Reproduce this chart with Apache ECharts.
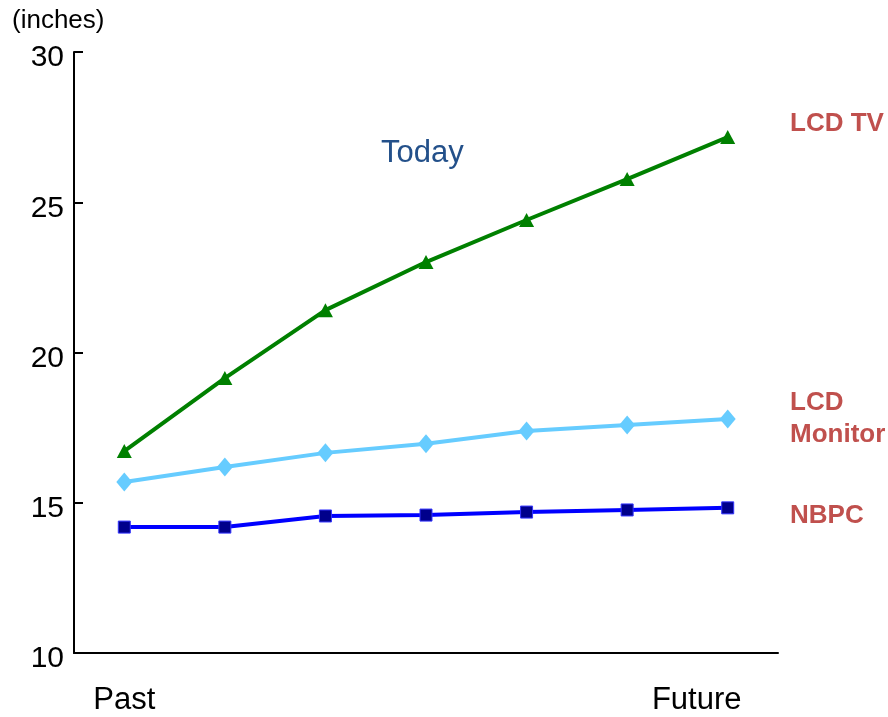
<!DOCTYPE html>
<html>
<head>
<meta charset="utf-8">
<style>
  html, body { margin: 0; padding: 0; background: #ffffff; }
  #chart { width: 888px; height: 717px; }
</style>
<script src="https://cdn.jsdelivr.net/npm/echarts@6/dist/echarts.min.js"></script>
</head>
<body>
<div id="chart"></div>
<script>
// Screen size trend (inches) from past to future
const categories = ['Past', '', '', '', '', '', 'Future'];
const lcdTv = [16.72, 19.15, 21.41, 23.01, 24.41, 25.77, 27.17];
const lcdMonitor = [15.69, 16.19, 16.66, 16.96, 17.39, 17.59, 17.79];
const nbpc = [14.19, 14.19, 14.56, 14.59, 14.69, 14.76, 14.83];
const yTicks = { min: 10, max: 30, interval: 5 };

const font = '"Liberation Sans", Arial, sans-serif';
const chart = echarts.init(document.getElementById('chart'));

function label(text, x, y, size, color, bold, lineHeight) {
  return {
    type: 'text', x: x, y: y,
    style: {
      text: text, fontFamily: font, fontSize: size, fill: color,
      fontWeight: bold ? 'bold' : 'normal',
      lineHeight: lineHeight || size,
      align: 'left', verticalAlign: 'middle'
    }
  };
}

chart.setOption({
  animation: false,
  backgroundColor: '#ffffff',
  grid: { left: 74, right: 110, top: 52, bottom: 64 },
  xAxis: {
    type: 'category',
    data: categories,
    boundaryGap: true,
    axisLine: { lineStyle: { color: '#000', width: 2 } },
    axisTick: { show: false },
    axisLabel: {
      interval: 0,
      margin: 32,
      color: '#000',
      fontFamily: font,
      fontSize: 31,
      formatter: function (v) { return v === 'Future' ? '{f|' + v + '}' : v; },
      rich: { f: { fontFamily: font, fontSize: 31, color: '#000', padding: [0, 62, 0, 0] } }
    }
  },
  yAxis: {
    type: 'value',
    min: yTicks.min,
    max: yTicks.max,
    interval: yTicks.interval,
    splitLine: { show: false },
    axisLine: { show: true, lineStyle: { color: '#000', width: 2 } },
    axisTick: { show: true, inside: true, length: 9, lineStyle: { color: '#000', width: 2 } },
    axisLabel: {
      color: '#000', fontFamily: font, fontSize: 30, margin: 10,
      formatter: function (v) { return '{t|' + v + '}'; },
      rich: { t: { fontFamily: font, fontSize: 30, color: '#000', lineHeight: 30, padding: [12, 0, 0, 0] } }
    }
  },
  series: [
    {
      name: 'LCD TV',
      type: 'line',
      data: lcdTv,
      symbol: 'triangle',
      symbolSize: [15, 14],
      lineStyle: { color: '#008000', width: 4 },
      itemStyle: { color: '#008000' }
    },
    {
      name: 'LCD Monitor',
      type: 'line',
      data: lcdMonitor,
      symbol: 'diamond',
      symbolSize: [16, 19],
      lineStyle: { color: '#66ccff', width: 4 },
      itemStyle: { color: '#66ccff' }
    },
    {
      name: 'NBPC',
      type: 'line',
      data: nbpc,
      symbol: 'rect',
      symbolSize: 12,
      lineStyle: { color: '#0000ff', width: 4 },
      itemStyle: { color: '#00008b', borderColor: '#3333ff', borderWidth: 1 }
    }
  ],
  graphic: [
    label('(inches)', 12, 21, 26, '#000', false),
    label('Today', 381, 153, 31, '#23508a', false),
    label('LCD TV', 790, 124, 26, '#c0504d', true),
    label('LCD\nMonitor', 790, 419, 26, '#c0504d', true, 32),
    label('NBPC', 790, 516, 26, '#c0504d', true)
  ]
});
</script>
</body>
</html>
